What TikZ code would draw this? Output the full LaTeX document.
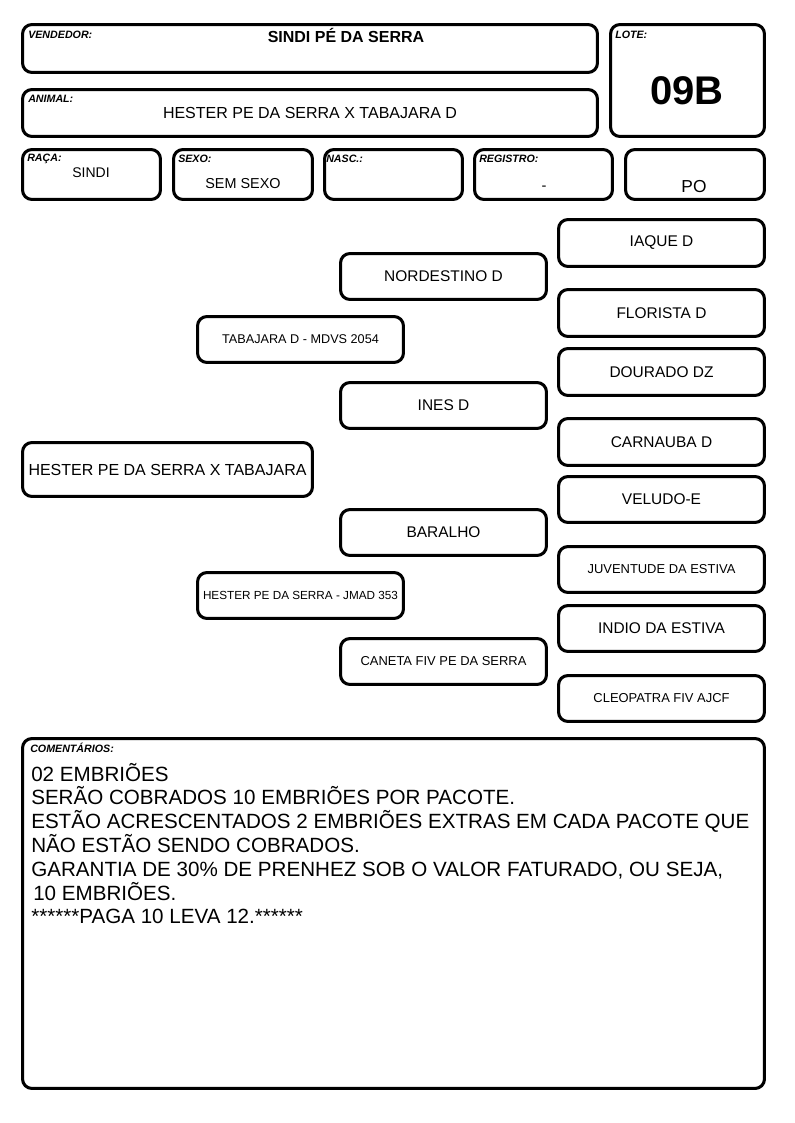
\documentclass[tikz,border=0pt]{standalone}
\usepackage{fontspec}
\setmainfont{Liberation Sans}
\begin{document}
\begin{tikzpicture}[x=0.75pt,y=-0.75pt,
  frame/.style={draw=black,line width=2.3pt,rounded corners=7pt,inner sep=0pt,fill=white},
  lbl/.style={inner sep=0pt,anchor=base west,font=\fontsize{8}{9}\selectfont\bfseries\itshape},
  big/.style={font=\fontsize{11.6}{13}\selectfont},
  sml/.style={font=\fontsize{9.7}{11}\selectfont}]
\useasboundingbox (0,0) rectangle (794,1123);
% generic box: name, x1, y1, x2, y2 (outer pixel edges), options, text
\newcommand\pbox[7]{%
  \node[frame,#6,minimum width={(#4-#2-3.1)*0.75pt},minimum height={(#5-#3-3.1)*0.75pt}]
    (#1) at ({(#2+#4)/2},{(#3+#5)/2}) {#7};}
% ---------- header ----------
\pbox{vend}{21}{23}{599}{74}{}{}
\pbox{lote}{609}{23}{766}{138}{}{}
\pbox{anim}{21}{88}{599}{138}{}{}
\pbox{raca}{21}{148}{162}{201}{}{}
\pbox{sexo}{172}{148}{314}{201}{}{}
\pbox{nasc}{323}{148}{464}{201}{}{}
\pbox{regi}{473}{148}{614}{201}{}{}
\pbox{po}{624}{148}{766}{201}{}{}
\node[lbl] (lvend) at (28,39) {VENDEDOR:};
\node[inner sep=0pt,anchor=base,font=\fontsize{12}{14}\selectfont\bfseries] (tvend) at (346,43) {SINDI PÉ DA SERRA};
\node[lbl] (llote) at (615,39) {LOTE:};
\node[inner sep=0pt,anchor=base,font=\fontsize{30}{34}\selectfont\bfseries] (tlote) at (687,105) {09B};
\node[lbl] (lanim) at (28,103) {ANIMAL:};
\node[inner sep=0pt,anchor=base,font=\fontsize{12}{14}\selectfont] (tanim) at (310,119) {HESTER PE DA SERRA X TABAJARA D};
\node[lbl] (lraca) at (27,162) {RAÇA:};
\node[inner sep=0pt,anchor=base,font=\fontsize{10.5}{12}\selectfont] (traca) at (91,178) {SINDI};
\node[lbl] (lsexo) at (178,163) {SEXO:};
\node[inner sep=0pt,anchor=base,font=\fontsize{10.8}{12}\selectfont] (tsexo) at (243,189) {SEM SEXO};
\node[lbl] (lnasc) at (326,163) {NASC.:};
\node[lbl] (lregi) at (479,163) {REGISTRO:};
\node[inner sep=0pt,anchor=base,font=\fontsize{11}{12}\selectfont] (tregi) at (544,191) {-};
\node[inner sep=0pt,anchor=base,font=\fontsize{13}{14}\selectfont] (tpo) at (694,193) {PO};
% ---------- pedigree ----------
\pbox{p0}{21}{441}{314}{498}{font=\fontsize{12}{14}\selectfont}{HESTER PE DA SERRA X TABAJARA}
\pbox{p1}{196}{315}{405}{364}{font=\fontsize{9.5}{11}\selectfont}{TABAJARA D - MDVS 2054}
\pbox{p2}{196}{571}{405}{620}{font=\fontsize{8.8}{10}\selectfont}{HESTER PE DA SERRA - JMAD 353}
\pbox{p11}{339}{252}{548}{301}{big}{NORDESTINO D}
\pbox{p12}{339}{381}{548}{430}{big}{INES D}
\pbox{p21}{339}{508}{548}{557}{big}{BARALHO}
\pbox{p22}{339}{637}{548}{686}{sml}{CANETA FIV PE DA SERRA}
\pbox{p111}{557}{218}{766}{268}{big}{IAQUE D}
\pbox{p112}{557}{288}{766}{338}{big}{FLORISTA D}
\pbox{p121}{557}{347}{766}{397}{big}{DOURADO DZ}
\pbox{p122}{557}{417}{766}{467}{big}{CARNAUBA D}
\pbox{p211}{557}{475}{766}{524}{big}{VELUDO-E}
\pbox{p212}{557}{545}{766}{594}{sml}{JUVENTUDE DA ESTIVA}
\pbox{p221}{557}{604}{766}{653}{big}{INDIO DA ESTIVA}
\pbox{p222}{557}{674}{766}{723}{sml}{CLEOPATRA FIV AJCF}
% ---------- comments ----------
\pbox{com}{21}{737}{766}{1090}{}{}
\node[lbl] (lcom) at (30,752) {COMENTÁRIOS:};
\node[inner sep=0pt,anchor=base west,font=\fontsize{15.45}{17.85}\selectfont] (tcom) at (31,781)
 {\vtop{\hbox{02 EMBRIÕES}
  \hbox{SERÃO COBRADOS 10 EMBRIÕES POR PACOTE.}
  \hbox{ESTÃO ACRESCENTADOS 2 EMBRIÕES EXTRAS EM CADA PACOTE QUE}
  \hbox{NÃO ESTÃO SENDO COBRADOS.}
  \hbox{GARANTIA DE 30\% DE PRENHEZ SOB O VALOR FATURADO, OU SEJA,}
  \hbox{\hspace{1.5pt}10 EMBRIÕES.}
  \hbox{******PAGA 10 LEVA 12.******}}};
\end{tikzpicture}
\end{document}
